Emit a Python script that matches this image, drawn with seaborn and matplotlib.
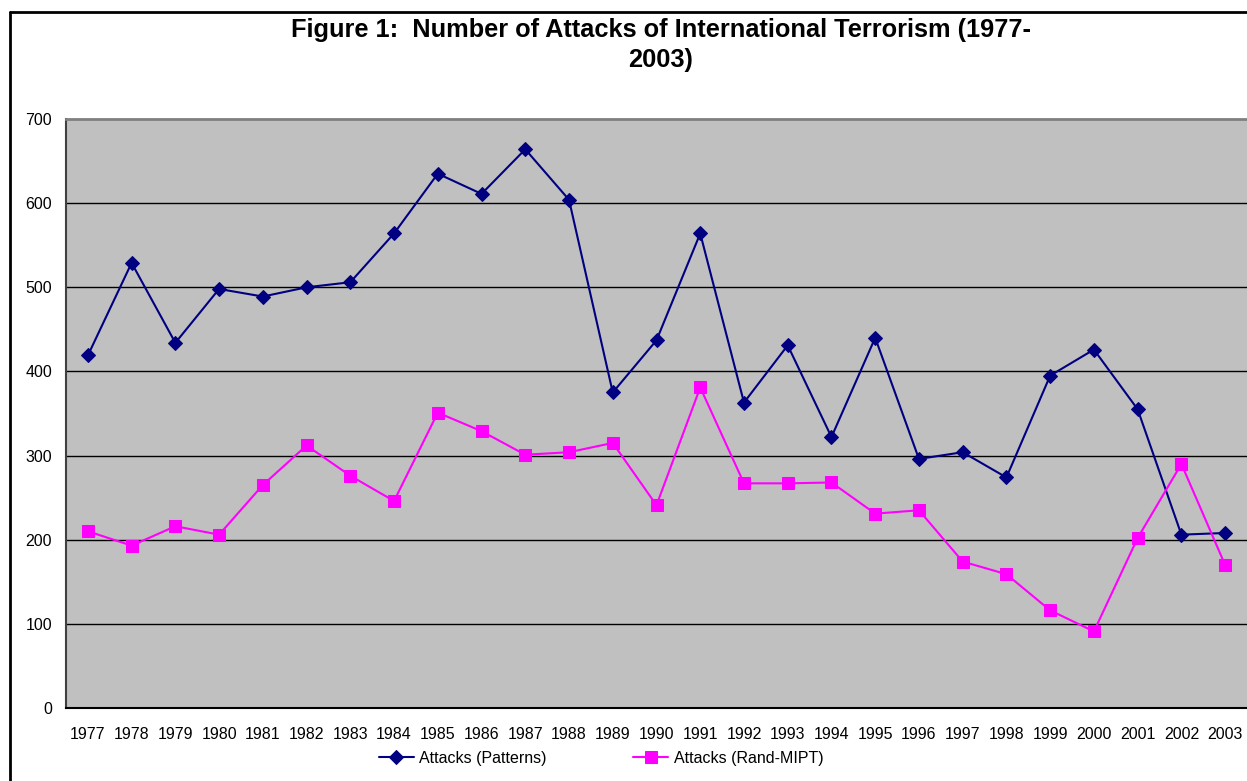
import pandas as pd
import seaborn as sns
import matplotlib.pyplot as plt
from matplotlib.lines import Line2D
from matplotlib.ticker import MultipleLocator

# data
years = list(range(1977, 2004))
patterns = [419, 529, 434, 498, 489, 500, 506, 564, 635, 611, 664, 604, 375, 437,
            564, 363, 431, 322, 440, 296, 304, 274, 395, 426, 355, 206, 208]
rand_mipt = [210, 193, 216, 206, 265, 312, 276, 246, 351, 329, 301, 304, 315, 241,
             381, 267, 267, 268, 231, 235, 174, 159, 116, 91, 202, 290, 170]

df = pd.DataFrame({"Year": years, "Attacks (Patterns)": patterns,
                   "Attacks (Rand-MIPT)": rand_mipt})

sns.set_style("white")
plt.rcParams["font.family"] = ["Liberation Sans", "DejaVu Sans"]
plt.rcParams["text.color"] = "black"
plt.rcParams["xtick.color"] = "black"
plt.rcParams["ytick.color"] = "black"

W, H = 1247, 781
fig = plt.figure(figsize=(W / 100, H / 100), dpi=100)
ax = fig.add_axes([66 / W, 1 - 708 / H, (1247 - 66) / W, (708 - 119) / H])
ax.set_facecolor("#C0C0C0")

sns.lineplot(data=df, x="Year", y="Attacks (Patterns)", ax=ax, color="#000080",
             marker="D", markersize=7, markeredgecolor="#000080", linewidth=1.5,
             label="Attacks (Patterns)")
sns.lineplot(data=df, x="Year", y="Attacks (Rand-MIPT)", ax=ax, color="#FF00FF",
             marker="s", markersize=9, markeredgecolor="#FF00FF", linewidth=1.5,
             label="Attacks (Rand-MIPT)")

ax.set_xlim(1976.5, 2003.5)
ax.set_ylim(0, 700)
ax.set_xticks(years)
ax.set_xticklabels([str(y) for y in years], fontsize=11.5)
ax.xaxis.set_minor_locator(MultipleLocator(0.5))
ax.yaxis.set_major_locator(MultipleLocator(100))
ax.tick_params(axis="y", labelsize=11.5, length=6, width=1, pad=4, direction="out")
ax.tick_params(axis="x", which="both", length=6, width=1, direction="out", pad=8)
ax.set_xlabel("")
ax.set_ylabel("")

for v in range(100, 700, 100):
    ax.axhline(v, color="black", linewidth=1, zorder=0.5)

ax.spines["top"].set_color("#808080")
ax.spines["top"].set_linewidth(2)
ax.spines["left"].set_color("#404040")
ax.spines["left"].set_linewidth(1.5)
ax.spines["bottom"].set_color("black")
ax.spines["bottom"].set_linewidth(1.5)
ax.spines["right"].set_visible(False)

ax.get_legend().remove()
handles, labels = ax.get_legend_handles_labels()
fig.legend(handles, labels, loc="center", bbox_to_anchor=(601 / W, 1 - 758 / H),
           ncol=2, frameon=False, fontsize=11.5, handlelength=2.2,
           columnspacing=5.4, handletextpad=0.35)

fig.text(661 / W, 1 - 45 / H,
         "Figure 1:  Number of Attacks of International Terrorism (1977-\n2003)",
         ha="center", va="center", fontsize=18.3, fontweight="bold", linespacing=1.35)

# outer chart border (only top and left visible in the crop)
fig.add_artist(Line2D([10 / W, 10 / W], [0, 1 - 12 / H], color="black",
                      linewidth=2, transform=fig.transFigure))
fig.add_artist(Line2D([10 / W, 1], [1 - 12 / H, 1 - 12 / H], color="black",
                      linewidth=2, transform=fig.transFigure))

fig.savefig("out.png", dpi=100)
